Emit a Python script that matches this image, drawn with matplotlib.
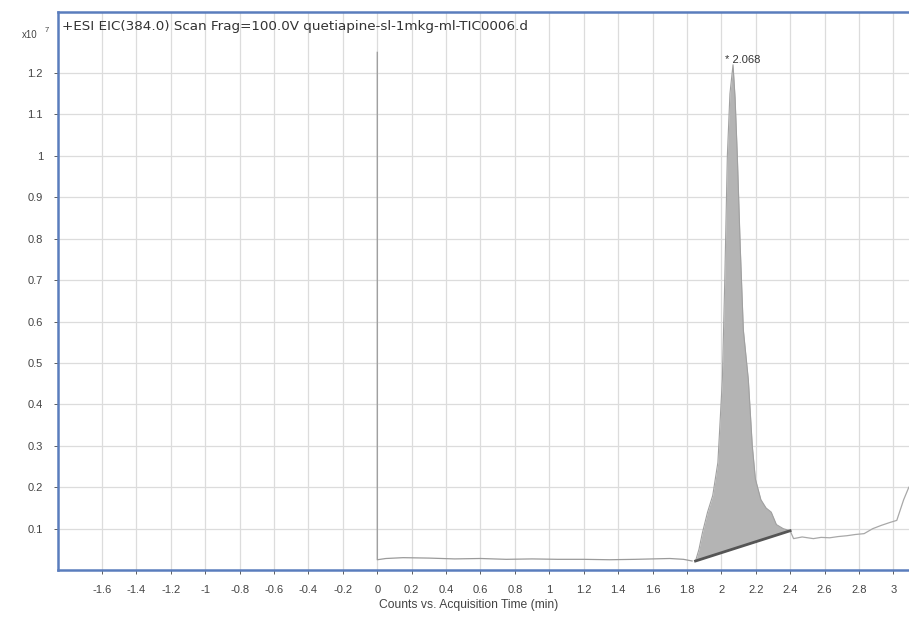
import numpy as np
import matplotlib
matplotlib.use("Agg")
import matplotlib.pyplot as plt

plt.rcParams['font.family'] = ['Liberation Sans', 'DejaVu Sans']

# trace before the peak (baseline region), min / counts x10^7
base_time = [0.0, 0.0, 0.05, 0.15, 0.3, 0.45, 0.6, 0.75, 0.9, 1.05, 1.2, 1.35, 1.5, 1.6, 1.7, 1.78, 1.83]
base_counts = [1.25, 0.025, 0.028, 0.030, 0.029, 0.027, 0.028, 0.026, 0.027, 0.026, 0.026, 0.025, 0.026, 0.027, 0.028, 0.026, 0.022]

# the integrated peak
peak_time = [1.85, 1.87, 1.89, 1.92, 1.95, 1.98, 2.006, 2.02, 2.035, 2.05, 2.068,
             2.08, 2.093, 2.11, 2.128, 2.157, 2.18, 2.198, 2.23, 2.26, 2.29, 2.32, 2.36, 2.40]
peak_counts = [0.022, 0.05, 0.09, 0.14, 0.18, 0.26, 0.46, 0.70, 1.00, 1.15, 1.22,
               1.14, 1.00, 0.78, 0.58, 0.46, 0.30, 0.22, 0.17, 0.15, 0.14, 0.11, 0.10, 0.095]

# trace after the peak
tail_time = [2.40, 2.42, 2.47, 2.535, 2.58, 2.63, 2.68, 2.73, 2.78, 2.83, 2.88, 2.93, 2.98, 3.02, 3.06, 3.09]
tail_counts = [0.095, 0.076, 0.080, 0.076, 0.079, 0.078, 0.081, 0.083, 0.086, 0.088, 0.100, 0.108, 0.115, 0.120, 0.17, 0.20]

peak_label = "2.068"
title = "+ESI EIC(384.0) Scan Frag=100.0V quetiapine-sl-1mkg-ml-TIC0006.d"
x_ticks = [-1.6, -1.4, -1.2, -1, -0.8, -0.6, -0.4, -0.2, 0, 0.2, 0.4, 0.6, 0.8, 1,
           1.2, 1.4, 1.6, 1.8, 2, 2.2, 2.4, 2.6, 2.8, 3]
y_ticks = [0.1, 0.2, 0.3, 0.4, 0.5, 0.6, 0.7, 0.8, 0.9, 1, 1.1, 1.2]

fig = plt.figure(figsize=(9.09, 6.19), dpi=100)
ax = fig.add_axes([0.064, 0.079, 0.95, 0.902])

ax.set_xlim(-1.855, 3.165)
ax.set_ylim(0, 1.348)

ax.set_xticks(x_ticks)
ax.set_xticklabels([f"{v:g}" for v in x_ticks])
ax.set_yticks(y_ticks)
ax.set_yticklabels([f"{v:g}" for v in y_ticks])
ax.grid(True, color='#dcdcdc', linewidth=0.9)
ax.set_axisbelow(True)
ax.tick_params(labelsize=8, colors='#444444', length=3, width=0.6, pad=8)

for side in ['left', 'bottom', 'top', 'right']:
    ax.spines[side].set_color('#5a7dbd')
    ax.spines[side].set_linewidth(1.8)

# traces
ax.plot(base_time, base_counts, color='#9a9a9a', linewidth=0.9)
ax.plot(tail_time, tail_counts, color='#a8a8a8', linewidth=0.9)

# shaded peak above the drop baseline
pt = np.array(peak_time)
pc = np.array(peak_counts)
bl = np.interp(pt, [pt[0], pt[-1]], [pc[0], pc[-1]])
ax.fill_between(pt, bl, pc, color='#b4b4b4', linewidth=0)
ax.plot(pt, pc, color='#a0a0a0', linewidth=0.8)
ax.plot([pt[0], pt[-1]], [pc[0], pc[-1]], color='#555555', linewidth=2)

ax.annotate("* " + peak_label, xy=(2.068, 1.22), xytext=(-6, 0),
            textcoords='offset points', fontsize=8, color='#333333', va='bottom')

ax.text(0.005, 0.985, title, transform=ax.transAxes, fontsize=9.7, color='#333333',
        va='top', ha='left', family=['DejaVu Sans'])

fig.text(0.024, 0.944, "x10", fontsize=7, color='#444444', va='center')
fig.text(0.049, 0.951, "7", fontsize=5.5, color='#444444', va='center')
fig.text(0.515, 0.022, "Counts vs. Acquisition Time (min)", fontsize=8.75, color='#444444',
         ha='center', va='center')

fig.savefig("out.png", dpi=100)
